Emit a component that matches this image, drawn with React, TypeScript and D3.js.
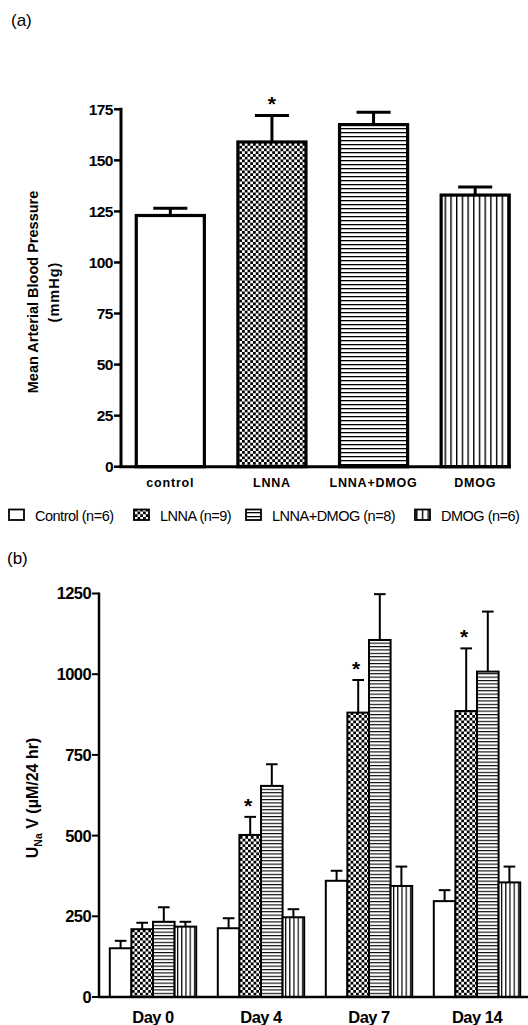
import React from 'react';
import * as d3 from 'd3';

// panel (a): mean arterial blood pressure
const catsA = ['control', 'LNNA', 'LNNA+DMOG', 'DMOG'];
const meanA = [123, 159, 167.5, 133];
const semA = [3.5, 13, 6, 4];
const starA = [false, true, false, false];
const ticksA = [0, 25, 50, 75, 100, 125, 150, 175];

// panel (b): UNaV by day
const days = ['Day 0', 'Day 4', 'Day 7', 'Day 14'];
const groups = ['Control (n=6)', 'LNNA (n=9)', 'LNNA+DMOG (n=8)', 'DMOG (n=6)'];
const meanControl = [151, 213, 360, 297];
const semControl = [23, 31, 31, 34];
const meanLNNA = [210, 502, 881, 886];
const semLNNA = [20, 56, 101, 194];
const meanLD = [233, 654, 1106, 1008];
const semLD = [45, 67, 142, 186];
const meanDMOG = [218, 247, 344, 355];
const semDMOG = [15, 25, 60, 49];
const starB = [false, true, true, true]; // LNNA only
const ticksB = [0, 250, 500, 750, 1000, 1250];

const font = '"Liberation Sans", Arial, sans-serif';
const fills = ['#fff', 'url(#check)', 'url(#hlines)', 'url(#vlines)'];
const fillsB = ['#fff', 'url(#check)', 'url(#hlinesB)', 'url(#vlinesB)'];

const Star = ({ x, y }: { x: number; y: number }) => (
	<text x={x} y={y} textAnchor='middle' fontFamily={font} fontWeight='bold' fontSize={21}>
		*
	</text>
);

export default function App() {
	// --- panel a scales ---
	const xA = d3.scaleBand().domain(catsA).range([119.5, 526]).paddingInner(0.33).paddingOuter(0.165);
	const yA = d3.scaleLinear().domain([0, 175]).range([466.7, 109.3]);
	const x0A = 121;

	// --- panel b scales ---
	const xB = d3.scaleBand().domain(days).range([99, 531]).paddingInner(0.2).paddingOuter(0.1);
	const xB1 = d3.scaleBand().domain(groups).range([0, xB.bandwidth()]);
	const yB = d3.scaleLinear().domain([0, 1250]).range([997, 593.5]);
	const x0B = 99;

	const seriesB = [
		{ mean: meanControl, sem: semControl },
		{ mean: meanLNNA, sem: semLNNA },
		{ mean: meanLD, sem: semLD },
		{ mean: meanDMOG, sem: semDMOG },
	];

	return (
		<svg width={528} height={1025} style={{ position: 'absolute', left: 0, top: 0 }}>
			<defs>
				<pattern id='check' width={5.5} height={5.5} patternUnits='userSpaceOnUse'>
					<rect width={5.5} height={5.5} fill='#fff' />
					<rect width={2.75} height={2.75} fill='#000' />
					<rect x={2.75} y={2.75} width={2.75} height={2.75} fill='#000' />
				</pattern>
				<pattern id='hlines' width={4} height={4} patternUnits='userSpaceOnUse'>
					<rect width={4} height={4} fill='#fff' />
					<rect y={0} width={4} height={1.3} fill='#000' />
				</pattern>
				<pattern id='hlinesB' width={3.4} height={3.4} patternUnits='userSpaceOnUse'>
					<rect width={3.4} height={3.4} fill='#fff' />
					<rect y={0} width={3.4} height={1.1} fill='#000' />
				</pattern>
				<pattern id='vlines' width={5.7} height={4} patternUnits='userSpaceOnUse'>
					<rect width={5.7} height={4} fill='#fff' />
					<rect x={0} width={1.4} height={4} fill='#000' />
				</pattern>
				<pattern id='vlinesB' width={4.2} height={4} patternUnits='userSpaceOnUse'>
					<rect width={4.2} height={4} fill='#fff' />
					<rect x={0} width={1.2} height={4} fill='#000' />
				</pattern>
			</defs>

			{/* --- PANEL A --- */}
			<text x={11} y={26} fontFamily={font} fontSize={17}>
				(a)
			</text>
			<g fontFamily={font} fontWeight='bold' fontSize={14.5}>
				<text transform='translate(38,292) rotate(-90)' textAnchor='middle'>
					Mean Arterial Blood Pressure
				</text>
				<text transform='translate(59,292) rotate(-90)' textAnchor='middle' letterSpacing={1}>
					(mmHg)
				</text>
			</g>

			{/* bars */}
			{catsA.map((c, i) => {
				const x = xA(c)!;
				const w = xA.bandwidth();
				const cx = x + w / 2;
				return (
					<g key={c}>
						<line x1={cx} x2={cx} y1={yA(meanA[i])} y2={yA(meanA[i] + semA[i])} stroke='#000' strokeWidth={3} />
						<line x1={cx - w / 4} x2={cx + w / 4} y1={yA(meanA[i] + semA[i])} y2={yA(meanA[i] + semA[i])} stroke='#000' strokeWidth={3} />
						<rect x={x} y={yA(meanA[i])} width={w} height={yA(0) - yA(meanA[i])} fill={fills[i]} stroke='#000' strokeWidth={3.2} />
						{starA[i] && <Star x={cx} y={yA(meanA[i] + semA[i]) - 4} />}
						<text x={cx} y={486.5} textAnchor='middle' fontFamily={font} fontWeight='bold' fontSize={12.5} letterSpacing={0.8}>
							{c}
						</text>
					</g>
				);
			})}

			{/* axes */}
			<line x1={x0A} x2={x0A} y1={yA(175) - 1.5} y2={yA(0)} stroke='#000' strokeWidth={3} />
			<line x1={x0A - 1.5} x2={511} y1={yA(0)} y2={yA(0)} stroke='#000' strokeWidth={3} />
			{ticksA.map((t) => (
				<g key={t} transform={`translate(${x0A},${yA(t)})`}>
					<line x1={-7} x2={0} stroke='#000' strokeWidth={2.5} />
					<text x={-8} dy='0.36em' textAnchor='end' fontFamily={font} fontWeight='bold' fontSize={15.5} letterSpacing={-0.5}>
						{t}
					</text>
				</g>
			))}

			{/* --- LEGEND --- */}
			{groups.map((g, i) => {
				const lx = [8, 133, 245, 414][i];
				return (
					<g key={g}>
						<rect x={lx + 1} y={509.5} width={15} height={10.5} fill={fills[i]} stroke='#000' strokeWidth={1.8} />
						<text x={lx + 27} y={520.5} fontFamily={font} fontSize={14.5} letterSpacing={-0.5}>
							{g}
						</text>
					</g>
				);
			})}

			{/* --- PANEL B --- */}
			<text x={7} y={564} fontFamily={font} fontSize={17}>
				(b)
			</text>
			<text transform='translate(38,798) rotate(-90)' textAnchor='middle' fontFamily={font} fontWeight='bold' fontSize={16}>
				U<tspan fontSize={10.5} dy={4}>Na</tspan>
				<tspan dy={-4}> V (µM/24 hr)</tspan>
			</text>

			{days.map((d, di) => (
				<g key={d} transform={`translate(${xB(d)},0)`}>
					{seriesB.map((s, si) => {
						const g = groups[si];
						const x = xB1(g)!;
						const w = xB1.bandwidth();
						const cx = x + w / 2;
						const top = yB(s.mean[di]);
						const et = yB(s.mean[di] + s.sem[di]);
						return (
							<g key={g}>
								<line x1={cx} x2={cx} y1={top} y2={et} stroke='#000' strokeWidth={2} />
								<line x1={cx - w * 0.27} x2={cx + w * 0.27} y1={et} y2={et} stroke='#000' strokeWidth={2} />
								<rect x={x} y={top} width={w} height={yB(0) - top} fill={fillsB[si]} stroke='#000' strokeWidth={2} />
								{si === 1 && starB[di] && <Star x={cx - 2} y={et - 4} />}
							</g>
						);
					})}
					<text x={xB.bandwidth() / 2} y={1022.5} textAnchor='middle' fontFamily={font} fontWeight='bold' fontSize={16.5} letterSpacing={-0.5}>
						{d}
					</text>
				</g>
			))}

			<line x1={x0B} x2={x0B} y1={yB(1250) - 1} y2={yB(0)} stroke='#000' strokeWidth={2.5} />
			<line x1={x0B - 1} x2={528} y1={yB(0)} y2={yB(0)} stroke='#000' strokeWidth={2.5} />
			{ticksB.map((t) => (
				<g key={t} transform={`translate(${x0B},${yB(t)})`}>
					<line x1={-7} x2={0} stroke='#000' strokeWidth={2} />
					<text x={-8} dy='0.36em' textAnchor='end' fontFamily={font} fontWeight='bold' fontSize={16.5} letterSpacing={-0.6}>
						{t}
					</text>
				</g>
			))}
		</svg>
	);
}
